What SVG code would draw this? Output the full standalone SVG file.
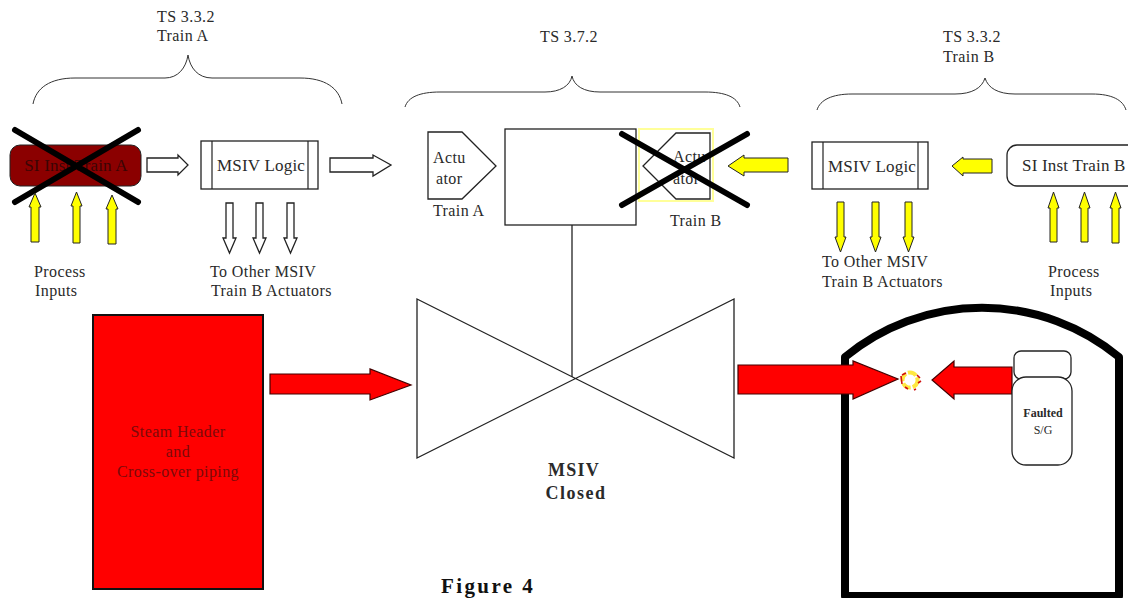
<svg xmlns="http://www.w3.org/2000/svg" width="1128" height="598" viewBox="0 0 1128 598">
<style>
text{font-family:"Liberation Serif","Times New Roman",serif;fill:#2a2a2a;font-size:16px;letter-spacing:.4px}
.l{font-size:17px;letter-spacing:.2px}
.o{fill:#fff;stroke:#222;stroke-width:1.3}
.y{fill:#ffff00;stroke:#222;stroke-width:1}
.r{fill:#ff0000;stroke:#400;stroke-width:1.2}
.x{stroke:#000;stroke-width:6;stroke-linecap:round;fill:none}
.b{fill:none;stroke:#333;stroke-width:1}
.c{text-anchor:middle}
.th{stroke:#222;stroke-width:1.2;fill:none}
.d{fill:#7a0a0a}
</style>
<rect width="1128" height="598" fill="#fff"/>
<g id="brackets">
<path class="b" d="M33,104C36,88 50,78 75,78H165C178,78 186,68 188,55C190,68 198,78 212,78H300C325,78 339,88 342,104"/>
<path class="b" d="M405,107C408,97 420,92 440,92H545C560,92 570,86 572,76C574,86 584,92 600,92H705C725,92 737,97 740,107"/>
<path class="b" d="M817,110C820,100 832,94 852,94H955C972,94 982,88 985,78C988,88 998,94 1015,94H1092C1112,94 1123,100 1126,110"/>
<text x="157" y="22">TS 3.3.2</text><text x="157" y="41">Train A</text>
<text x="540" y="42">TS 3.7.2</text>
<text x="943" y="42">TS 3.3.2</text><text x="943" y="62">Train B</text>
</g>
<g id="si-train-a">
<rect x="10" y="145" width="131" height="41" rx="10" fill="#8b0000" stroke="#222"/>
<text x="76" y="171" class="c l" style="fill:#3a0505">SI Inst Train A</text>
<path class="x" d="M15,130L138,202M15,202L138,130"/>
</g>
<g id="msiv-logic-a">
<rect class="o" x="201" y="141" width="117" height="48"/>
<path class="th" d="M212,141V189M308,141V189"/>
<text x="217" y="171" class="l">MSIV Logic</text>
</g>
<g id="actuator-a">
<path class="o" d="M428,132H462L496,166L462,199H428Z"/>
<text x="433" y="163">Actu</text><text x="436" y="184">ator</text>
<text x="433" y="216">Train A</text>
</g>
<g id="valve-box"><rect class="o" x="505" y="129" width="131" height="96"/></g>
<g id="actuator-b">
<rect x="639" y="129" width="74" height="72" fill="#fff" stroke="#ffff99" stroke-width="2"/>
<path class="o" d="M710,133H676L643,166L676,199H710Z"/>
<text x="673" y="162">Actu</text><text x="673" y="184">ator</text>
<text x="670" y="226">Train B</text>
<path class="x" d="M622,134L747,205M622,205L747,134"/>
</g>
<g id="msiv-logic-b">
<rect class="o" x="812" y="142" width="116" height="47"/>
<path class="th" d="M823,142V189M918,142V189"/>
<text x="828" y="172" class="l">MSIV Logic</text>
</g>
<g id="si-train-b">
<rect class="o" x="1007" y="145" width="135" height="41" rx="10"/>
<text x="1022" y="171" class="l">SI Inst Train B</text>
</g>
<g id="connectors">
<path class="o" d="M147,158H178V155L188,165L178,175V172H147Z"/>
<path class="o" d="M330,158H373V155L391,165L373,176V172H330Z"/>
<path class="o" d="M226,203H233V238H236L229.500,253L223,238H226Z"/>
<path class="o" d="M256,203H263V238H266L259.500,253L253,238H256Z"/>
<path class="o" d="M287,203H294V238H297L290.500,253L284,238H287Z"/>
<path class="y" d="M31,242V207H29L35,193L41,207H39V242Z"/>
<path class="y" d="M73,243V206H71L76.500,192L82,206H80V243Z"/>
<path class="y" d="M108,244V209H106L112,195L118,209H116V244Z"/>
<path class="y" d="M788,158V172H744V176L728,166L744,155V158Z"/>
<path class="y" d="M992,159V173H963V176L952,166L963,157V159Z"/>
<path class="y" d="M837,202H844V237H846L840.500,252L835,237H837Z"/>
<path class="y" d="M872,202H879V237H881L875.500,252L870,237H872Z"/>
<path class="y" d="M905,202H912V237H914L908.500,252L903,237H905Z"/>
<path class="y" d="M1050,242V208H1048L1053.500,192L1059,208H1057V242Z"/>
<path class="y" d="M1081,242V208H1079L1084.500,192L1090,208H1088V242Z"/>
<path class="y" d="M1112,243V208H1110L1115.500,192L1121,208H1119V243Z"/>
<path class="r" d="M270,374H370V369L411,385L370,400V394H270Z"/>
<line x1="572" y1="225" x2="572" y2="379" stroke="#222" stroke-width="1.300"/>
</g>
<g id="labels">
<text x="34" y="277">Process</text><text x="35" y="296">Inputs</text>
<text x="210" y="277">To Other MSIV</text><text x="211" y="296">Train B Actuators</text>
<text x="822" y="267">To Other MSIV</text><text x="822" y="287">Train B Actuators</text>
<text x="1048" y="277">Process</text><text x="1050" y="296">Inputs</text>
</g>
<g id="steam-header">
<rect x="93" y="315" width="170" height="274" fill="#ff0000" stroke="#111" stroke-width="2"/>
<text x="178" y="437" class="c d">Steam Header</text>
<text x="178" y="457" class="c d">and</text>
<text x="178" y="477" class="c d">Cross-over piping</text>
</g>
<g id="msiv">
<path class="o" d="M417,299L734,458V299L417,458Z"/>
<text x="574" y="476" class="c" style="font-size:18px;font-weight:bold;letter-spacing:1.300px">MSIV</text>
<text x="576" y="499" class="c" style="font-size:18px;font-weight:bold;letter-spacing:1.500px">Closed</text>
</g>
<g id="containment">
<path d="M845,596V357A215,215 0 0 1 1119,357V596Z" fill="none" stroke="#000" stroke-width="8" stroke-linejoin="round"/>
</g>
<g id="flow-arrows">
<path class="r" d="M738,365H853V361L898,379L853,399V394H738Z"/>
<path class="r" d="M1012,367V394H954V399L932,380L954,361V367Z"/>
</g>
<g id="break">
<circle cx="910" cy="380" r="7.500" fill="#fff" stroke="#ffe840" stroke-width="4" stroke-dasharray="9 2"/>
<path d="M902,375L906,373M901,376L902,384M905,387L908,389M914,390L916,389M917,375L920,378M918,383L921,381" stroke="#d01010" stroke-width="1.600" fill="none"/>
</g>
<g id="steam-generator">
<rect class="o" x="1014" y="351" width="57" height="28" rx="7"/>
<rect class="o" x="1012" y="377" width="60" height="88" rx="14"/>
<text x="1043" y="417" class="c" style="font-size:12px;font-weight:bold;letter-spacing:0">Faulted</text>
<text x="1043" y="434" class="c" style="font-size:12px;letter-spacing:0">S/G</text>
</g>
<text id="caption" x="441" y="593" style="font-size:21px;font-weight:bold;letter-spacing:2.400px;fill:#111">Figure 4</text>
</svg>
